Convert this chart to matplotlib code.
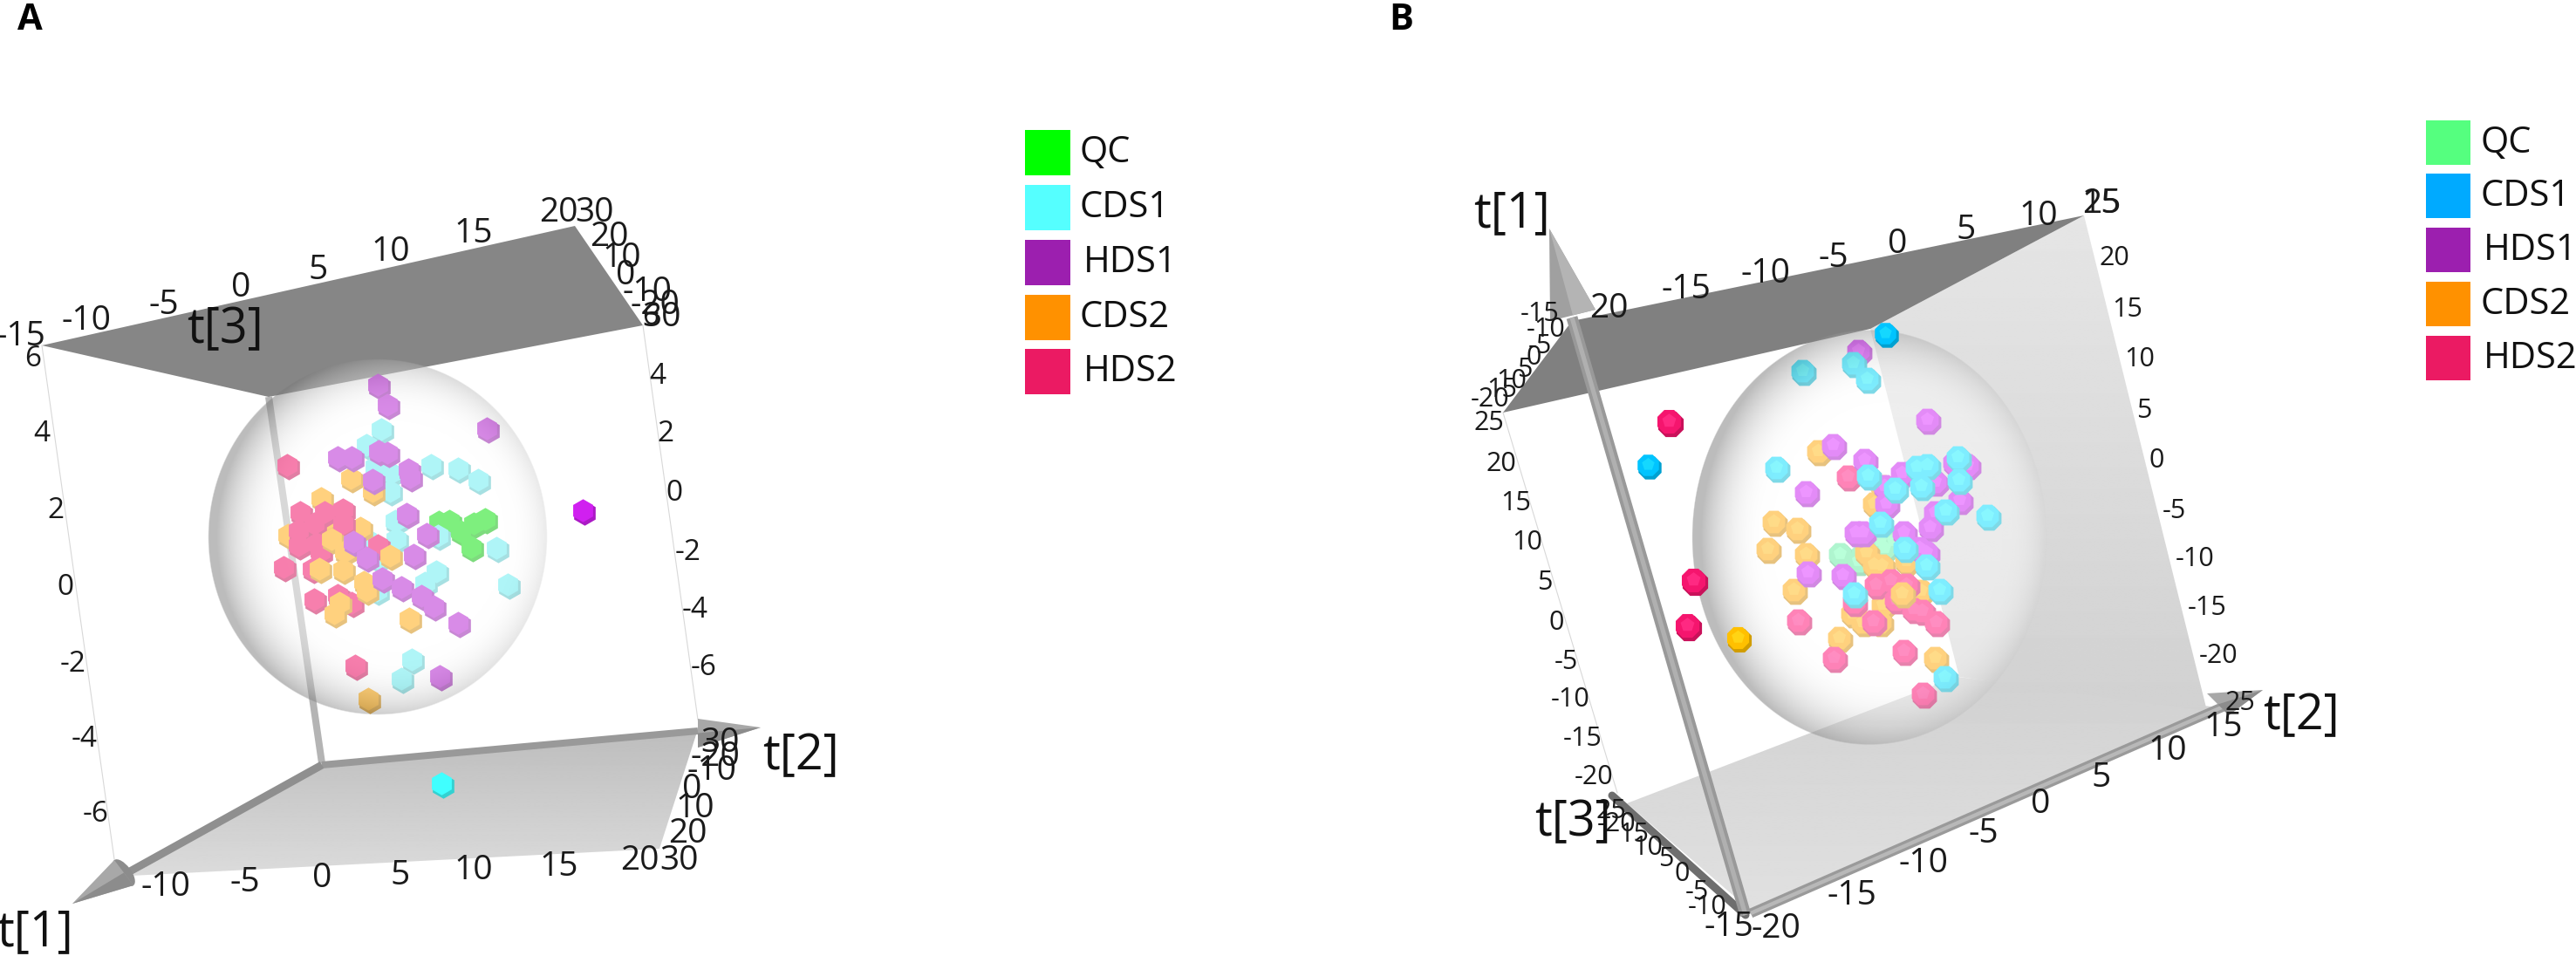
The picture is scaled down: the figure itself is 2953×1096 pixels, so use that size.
import numpy as np
import matplotlib
matplotlib.use("Agg")
import matplotlib.pyplot as plt
from matplotlib.patches import Polygon, Rectangle, Ellipse

W, H = 2953, 1096
TICK_FONT = "Open Sans"
TEXT_FONT = "Open Sans"

# ---------- data: projected scores on the image plane ----------
legend_labels = ["QC", "CDS1", "HDS1", "CDS2", "HDS2"]
legend_A = ["#00FF00", "#55FFFF", "#9C1FAF", "#FF9100", "#EB1A63"]
legend_B = ["#55FF7F", "#00AAFF", "#9C1FAF", "#FF9100", "#EB1A63"]

A_QC = [(503,598),(515,597),(528,609),(543,600),(556,595),(540,627)]
A_CDS1 = [(437,492),(420,510),(430,535),(448,542),(447,563),(494,533),(525,537),(548,550),
          (453,597),(454,618),(502,614),(569,628),(582,670),(500,655),(487,668),(420,618),
          (393,617),(433,640),(432,677),(472,756),(460,778)]
A_CDS2_back = [(402,548),(427,563),(368,571),(330,613),(413,605),(370,597),(422,801)]
A_CDS2_front = [(380,618),(395,632),(447,637),(366,652),(393,653),(417,667),(420,677),(469,709),(383,703),(389,691)]
A_HDS2 = [(329,533),(344,587),(393,584),(342,608),(342,625),(363,623),(367,632),(393,600),
          (360,600),(372,587),(433,625),(325,650),(358,652),(360,687),(387,682),(403,691),(407,763)]
A_HDS1 = [(433,441),(444,464),(558,491),(387,524),(403,524),(434,517),(444,519),(468,538),
          (470,547),(427,550),(466,589),(489,612),(405,621),(420,639),(474,636),(438,663),
          (460,673),(483,683),(497,695),(525,714),(504,775)]
A_out_CDS1 = [(506,898)]
A_out_HDS1 = [(668,585)]

B_QC = [(2109,635),(2155,620),(2170,620),(2135,635),(2130,643),(2160,628)]
B_CDS2 = [(2084,517),(2033,598),(2060,606),(2026,629),(2070,635),(2056,676),(2139,633),(2148,647),
          (2157,648),(2185,643),(2158,693),(2123,703),(2135,713),(2155,713),(2108,731),(2218,754),
          (2202,677),(2157,557),(2148,577)]
B_HDS2 = [(2118,546),(2150,670),(2167,665),(2185,670),(2173,687),(2193,698),(2203,700),(2219,713),
          (2147,712),(2061,711),(2102,754),(2182,746),(2204,795),(2125,690)]
B_CDS2_top = [(2180,680)]
B_HDS1 = [(2101,510),(2137,527),(2070,564),(2180,542),(2218,552),(2240,530),(2255,533),(2160,557),
          (2162,577),(2246,573),(2218,587),(2212,604),(2127,610),(2135,610),(2182,610),(2200,628),
          (2208,633),(2072,656),(2112,659),(2209,481),(2130,402)]
B_CDS1 = [(2036,536),(2141,545),(2172,560),(2197,535),(2209,533),(2202,557),(2244,524),(2245,550),
          (2230,585),(2278,591),(2155,599),(2183,628),(2208,648),(2223,676),(2125,680),(2229,776),
          (2066,425),(2124,416),(2140,434)]
B_out_HDS2 = [(1913,483),(1941,665),(1934,717)]
B_out_CDS1 = [(1889,533),(2161,382)]
B_out_CDS2 = [(1992,731)]

# tick labels: text, x, y
A_ticks_big = [("-15",24,386),("-10",99,368),("-5",188,350),("0",276,330),("5",365,310),("10",448,289),
               ("15",543,268),("20",640,244),("30",682,244),("20",698,272),("10",713,296),("0",717,316),
               ("-10",742,335),("-20",751,350),("30",759,364),
               ("-10",190,1017),("-5",281,1012),("0",369,1007),("5",459,1004),("10",543,998),("15",641,994),
               ("20",733,987),("30",779,987),("20",788,956),("10",797,927),("0",793,905),("-10",816,884),
               ("-20",820,868),("30",826,852)]
A_ticks_small = [("6",38,411),("4",48,497),("2",64,586),("0",75,674),("-2",84,761),("-4",97,847),("-6",110,934),
                 ("4",754,431),("2",763,497),("0",773,566),("-2",789,633),("-4",797,700),("-6",807,765),("6",746,364)]
B_ticks_big = [("20",1844,354),("-15",1933,332),("-10",2024,314),("-5",2102,296),("0",2175,280),("5",2254,264),
               ("10",2337,248),("15",2409,234),("25",2409,234),
               ("-20",2036,1065),("-15",2123,1027),("-10",2205,990),("-5",2274,956),("0",2339,922),("5",2409,892),
               ("10",2485,861),("15",2549,834),("-15",1982,1063)]
B_ticks_small = [("-15",1765,360),("-10",1772,378),("-5",1765,397),("0",1758,410),("5",1748,424),("10",1733,437),
                 ("15",1722,447),("-20",1708,458),("25",1707,485),
                 ("20",1721,532),("15",1738,577),("10",1751,622),("5",1771,668),("0",1784,714),("-5",1795,759),
                 ("-10",1800,802),("-15",1814,847),("-20",1827,891),
                 ("20",2424,296),("15",2439,355),("10",2453,412),("5",2458,471),("0",2472,528),("-5",2492,586),
                 ("-10",2516,641),("-15",2530,697),("-20",2543,752),("25",2568,806),
                 ("-10",1957,1040),("-5",1945,1023),("0",1928,1002),("5",1910,985),("10",1889,972),("15",1873,957),
                 ("-20",1853,945),("25",1847,930)]

# ---------- figure ----------
fig = plt.figure(figsize=(W/100, H/100), dpi=100, facecolor="white")
ax = fig.add_axes([0, 0, 1, 1])
ax.set_axis_off()

def lin(p):
    return p * 0.72

def grad_poly(corners, c_top, c_bot, z):
    xs = [c[0] for c in corners]; ys = [c[1] for c in corners]
    y0, y1 = min(ys), max(ys)
    g = np.linspace(c_top, c_bot, 200)[:, None]
    im = ax.imshow(g, extent=(min(xs), max(xs), y1, y0), cmap="gray", vmin=0, vmax=1,
                   aspect="auto", zorder=z, interpolation="bilinear")
    poly = Polygon(corners, closed=True, transform=ax.transData, fc="none", ec="none")
    ax.add_patch(poly)
    im.set_clip_path(poly)

def sphere(cx, cy, rx, ry, z, shift=0.10):
    x0, x1 = int(cx-rx-3), int(cx+rx+3)
    y0, y1 = int(cy-ry-3), int(cy+ry+3)
    xx, yy = np.meshgrid(np.arange(x0, x1)+.5, np.arange(y0, y1)+.5)
    r = np.hypot((xx-cx)/rx, (yy-cy)/ry)
    r2 = np.hypot((xx-cx-shift*rx)/rx/1.05, (yy-cy)/ry/1.05)
    t = np.clip((r2-0.62)/0.38, 0, 1)
    c = 1 - 0.52*t**2.5
    a = 0.5 * np.clip((1-r)*max(rx, ry)/1.5+0.5, 0, 1)
    rgba = np.dstack([c, c, c, a])
    ax.imshow(rgba, extent=(x0, x1, y1, y0), aspect="auto", zorder=z, interpolation="bilinear")

def shade(col, f):
    return tuple(np.array(matplotlib.colors.to_rgb(col))*f)

def pts(series, col, marker, s, z, pent=False):
    xy = np.array(series, float)
    ax.scatter(xy[:,0]+1.5, xy[:,1]+2.5, s=s, marker=marker, c=[shade(col, .82)], lw=0, zorder=z)
    ax.scatter(xy[:,0]-.5, xy[:,1]-.5, s=s*.86, marker=marker, c=[col], lw=0, zorder=z)
    if pent:
        ax.scatter(xy[:,0], xy[:,1]-1, s=s*.28, marker="p",
                   c=[tuple(np.minimum(1, np.array(shade(col, 1))+.08))], lw=0, zorder=z)

def labels(items, size, z=8, color="#1a1a1a"):
    for t, x, y in items:
        ax.text(x, y, t, fontsize=size, family=TICK_FONT, ha="center", va="center", color=color, zorder=z)

def cone(tip, b1, b2, z, col="#a8a8a8", dark="#8c8c8c", cap=False):
    mid = ((b1[0]+b2[0])/2, (b1[1]+b2[1])/2)
    if cap:
        L = np.hypot(b1[0]-b2[0], b1[1]-b2[1])
        ang = np.degrees(np.arctan2(b2[1]-b1[1], b2[0]-b1[0]))
        ax.add_patch(Ellipse(mid, L, L*.45, angle=ang, fc=dark, ec="none", zorder=z))
    ax.add_patch(Polygon([tip, b1, b2], closed=True, fc=col, ec="none", zorder=z))
    ax.add_patch(Polygon([tip, mid, b2], closed=True, fc=dark, ec="none", zorder=z))

def bar(p, q, w, col, z, hi=None, cap="butt"):
    ax.plot([p[0], q[0]], [p[1], q[1]], color=col, lw=lin(w), solid_capstyle=cap, zorder=z)
    if hi:
        ax.plot([p[0], q[0]], [p[1], q[1]], color=hi, lw=lin(w*.4), solid_capstyle="butt", zorder=z)

# ---------- panel A ----------
grad_poly([(369,875),(800,836),(756,973),(150,1004)], .74, .86, 1)
ax.add_patch(Polygon([(48,396),(659,259),(737,373),(308,455)], closed=True, fc="#868686", ec="none", zorder=1))
ax.plot([48,131],[396,985], color="#d8d8d8", lw=.8, zorder=1)
ax.plot([737,800],[373,825], color="#d8d8d8", lw=.8, zorder=1)
bar((308,455),(369,875), 8, "#b4b4b4", 2)
bar((369,877),(800,838), 8, "#999999", 2)
bar((369,877),(140,1004), 9, "#8f8f8f", 2)
MA, SA = "h", 420
pts(A_QC, "#00E100", MA, SA, 3)
pts(A_CDS1, "#61EDF1", MA, SA, 3.1)
pts(A_CDS2_back, "#FFA500", MA, SA, 3.2)
pts(A_HDS2, "#F1015D", MA, SA, 3.3)
pts(A_CDS2_front, "#FFA500", MA, SA, 3.4)
pts(A_HDS1, "#B319D1", MA, SA, 3.5)
sphere(433, 615.5, 194, 203.5, 5)
pts(A_out_CDS1, "#40FFFF", MA, SA, 6)
pts(A_out_HDS1, "#D020F0", MA, SA, 6)
cone((872,834),(800,824),(800,857), 6)
cone((83,1036),(131,986),(153,1015), 6, cap=True)
labels(A_ticks_big, 28)
labels(A_ticks_small, 24)
for t, x, y in [("t[3]",258,379),("t[2]",918,868),("t[1]",40,1070)]:
    ax.text(x, y, t, fontsize=40, family=TICK_FONT, ha="center", va="center", color="#111111", zorder=9)
ax.text(34, 23, "A", fontsize=30, family=TEXT_FONT, weight="bold", ha="center", va="center", zorder=9)

# ---------- panel B ----------
grad_poly([(1865,921),(2243,776),(2543,811),(2007,1044)], .82, .88, 1)
grad_poly([(2144,377),(2389,247),(2530,815),(2246,776)], .90, .82, 1)
ax.add_patch(Polygon([(1723,473),(1802,368),(2389,247),(2144,377)], closed=True, fc="#808080", ec="none", zorder=1.5))
ax.plot([1723,1854],[473,909], color="#d8d8d8", lw=.8, zorder=1)
bar((2007,1047),(2549,810), 11, "#9a9a9a", 2, "#b8b8b8")
bar((2001,1049),(1848,912), 9, "#6e6e6e", 2, cap="round")
MB, SB = "8", 470
pts(B_QC, "#61EDA1", MB, SB, 3, True)
pts(B_CDS2, "#FFA500", MB, SB, 3.1, True)
pts(B_HDS2, "#FF0971", MB, SB, 3.2, True)
pts(B_CDS2_top, "#FFA500", MB, SB, 3.5, True)
pts(B_HDS1, "#C919F1", MB, SB, 3.3, True)
pts(B_CDS1, "#00DDFF", MB, SB, 3.4, True)
sphere(2143, 616, 203, 237.5, 5)
pts(B_out_HDS2, "#F5156E", MB, SB*1.1, 6, True)
pts(B_out_CDS1, "#00C4FF", MB, SB*.9, 6, True)
pts(B_out_CDS2, "#FFC000", MB, SB*.95, 6, True)
bar((2001,1049),(1802,364), 13, "#999999", 6, "#b0b0b0")
cone((1776,262),(1777,368),(1829,355), 7, "#a0a0a0", "#b4b4b4")
cone((2594,791),(2530,795),(2555,820), 7)
labels(B_ticks_big, 28)
labels(B_ticks_small, 22)
for t, x, y in [("t[1]",1733,246),("t[2]",2638,822),("t[3]",1803,944)]:
    ax.text(x, y, t, fontsize=40, family=TICK_FONT, ha="center", va="center", color="#111111", zorder=9)
ax.text(1606, 24, "B", fontsize=30, family=TEXT_FONT, weight="bold", ha="center", va="center", zorder=9)

# ---------- legends ----------
def legend(x0, tops, size, cols):
    for lab, top, col in zip(legend_labels, tops, cols):
        ax.add_patch(Rectangle((x0, top), size, size, fc=col, ec="none", zorder=9))
        dx = 15 if lab[0] == "H" else 11
        ax.text(x0+size+dx, top+size/2, lab, fontsize=30, family=TEXT_FONT, ha="left", va="center",
                color="#111111", zorder=9)

legend(1175, [149,212,275,338,400], 52, legend_A)
legend(2781, [138,199,261,323,385], 51, legend_B)

ax.set_xlim(0, W)
ax.set_ylim(H, 0)
fig.savefig("out.png", dpi=100, facecolor="white")
